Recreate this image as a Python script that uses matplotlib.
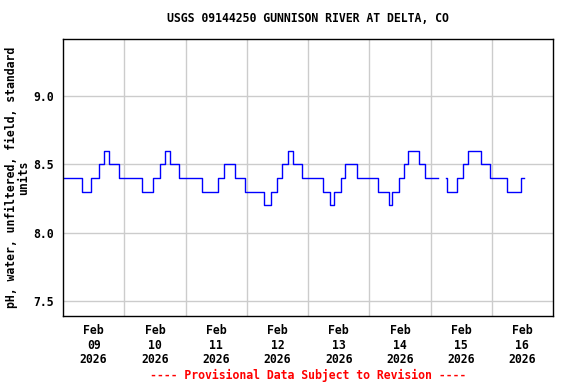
import numpy as np
import pandas as pd
import matplotlib
matplotlib.use('Agg')
import matplotlib.pyplot as plt
import matplotlib.dates as mdates

# pH change points (time, value) - values hold until next change
seg1_times = [
    '2026-02-09 00:00', '2026-02-09 07:15', '2026-02-09 11:00', '2026-02-09 14:00',
    '2026-02-09 16:15', '2026-02-09 18:00', '2026-02-09 22:00',
    '2026-02-10 07:00', '2026-02-10 11:15', '2026-02-10 14:00', '2026-02-10 16:00',
    '2026-02-10 18:00', '2026-02-10 21:30',
    '2026-02-11 06:30', '2026-02-11 12:45', '2026-02-11 15:15', '2026-02-11 19:15',
    '2026-02-11 23:15',
    '2026-02-12 06:45', '2026-02-12 09:30', '2026-02-12 11:45', '2026-02-12 14:00',
    '2026-02-12 16:00', '2026-02-12 18:00', '2026-02-12 21:30',
    '2026-02-13 06:00', '2026-02-13 08:45', '2026-02-13 10:00', '2026-02-13 12:45',
    '2026-02-13 14:30', '2026-02-13 19:15',
    '2026-02-14 03:30', '2026-02-14 07:45', '2026-02-14 08:45', '2026-02-14 11:30',
    '2026-02-14 13:30', '2026-02-14 15:15', '2026-02-14 19:30', '2026-02-14 22:00',
    '2026-02-15 02:45',
]
seg1_values = [
    8.4, 8.3, 8.4, 8.5, 8.6, 8.5, 8.4,
    8.3, 8.4, 8.5, 8.6, 8.5, 8.4,
    8.3, 8.4, 8.5, 8.4, 8.3,
    8.2, 8.3, 8.4, 8.5, 8.6, 8.5, 8.4,
    8.3, 8.2, 8.3, 8.4, 8.5, 8.4,
    8.3, 8.2, 8.3, 8.4, 8.5, 8.6, 8.5, 8.4,
    8.4,
]
seg2_times = [
    '2026-02-15 06:15', '2026-02-15 06:30', '2026-02-15 10:30', '2026-02-15 12:45',
    '2026-02-15 14:30', '2026-02-15 19:45', '2026-02-15 23:30',
    '2026-02-16 06:00', '2026-02-16 11:30', '2026-02-16 12:45',
]
seg2_values = [8.4, 8.3, 8.4, 8.5, 8.6, 8.5, 8.4, 8.3, 8.4, 8.4]

title = 'USGS 09144250 GUNNISON RIVER AT DELTA, CO'
ylabel = 'pH, water, unfiltered, field, standard\nunits'
footer = '---- Provisional Data Subject to Revision ----'
day_labels = ['Feb\n%02d\n2026' % d for d in range(9, 17)]

plt.rcParams['font.family'] = ['DejaVu Sans Mono']
plt.rcParams['font.weight'] = 'bold'
fs = 8.3

fig = plt.figure(figsize=(5.76, 3.84), dpi=100)
ax = fig.add_axes([63/576, 1-316/384, 490/576, 277/384])

for t, v in [(seg1_times, seg1_values), (seg2_times, seg2_values)]:
    ax.plot(pd.to_datetime(t), v, drawstyle='steps-post', color='#0000ff', lw=1)

ax.set_xlim(pd.Timestamp('2026-02-09'), pd.Timestamp('2026-02-17'))
ax.set_ylim(7.39, 9.416)

midnights = pd.date_range('2026-02-10', '2026-02-16', freq='D')
noons = pd.date_range('2026-02-09 12:00', periods=8, freq='D')
ax.set_xticks(mdates.date2num(noons))
ax.set_xticklabels(day_labels, fontsize=fs, fontweight='bold', linespacing=1.15)
ax.set_xticks(mdates.date2num(midnights), minor=True)
ax.set_yticks([7.5, 8.0, 8.5, 9.0])
ax.set_yticklabels(['7.5', '8.0', '8.5', '9.0'], fontsize=fs, fontweight='bold')
ax.tick_params(axis='x', which='both', length=0, pad=6)
ax.tick_params(axis='y', which='both', length=0, pad=6.5)
ax.grid(True, which='minor', axis='x', color='#cccccc', lw=1)
ax.grid(True, which='major', axis='y', color='#cccccc', lw=1)
for s in ax.spines.values():
    s.set_linewidth(1)

ax.set_ylabel(ylabel, fontsize=fs, fontweight='bold', labelpad=2, linespacing=1.0)
fig.text(308/576, 1-19/384, title, ha='center', va='center', fontsize=fs, fontweight='bold')
fig.text(308/576, 1-375/384, footer, ha='center', va='center', fontsize=fs,
         fontweight='bold', color='red')

fig.savefig('out.png', dpi=100)
